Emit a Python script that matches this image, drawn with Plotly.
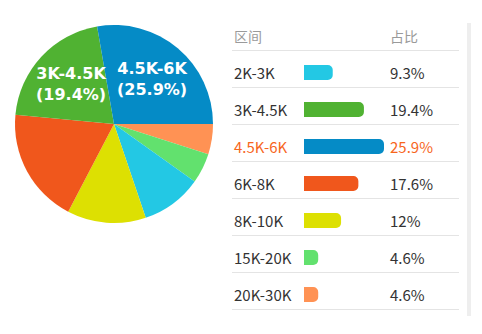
import math
import plotly.graph_objects as go

# ---- data ----
categories = ["2K-3K", "3K-4.5K", "4.5K-6K", "6K-8K", "8K-10K", "15K-20K", "20K-30K"]
shares = [9.3, 19.4, 25.9, 17.6, 12, 4.6, 4.6]
share_labels = ["9.3%", "19.4%", "25.9%", "17.6%", "12%", "4.6%", "4.6%"]
colors = ["#23c8e4", "#50b232", "#058bc6", "#f0571c", "#dde002", "#62e16e", "#ff9254"]
# clockwise from 3 o'clock
pie_order = ["20K-30K", "15K-20K", "2K-3K", "8K-10K", "6K-8K", "3K-4.5K", "4.5K-6K"]
pie_labelled = ["4.5K-6K", "3K-4.5K"]
highlight = "4.5K-6K"
header = ["区间", "占比"]

W, H = 482, 334


def px(x):
    return x / W


def py(y):
    return 1 - y / H


idx = {c: i for i, c in enumerate(categories)}
pie_vals = [shares[idx[c]] for c in pie_order]
pie_cols = [colors[idx[c]] for c in pie_order]

# pie geometry (pixels)
PCX, PCY, PR = 114, 124, 99

fig = go.Figure()
fig.add_trace(go.Pie(
    labels=pie_order, values=pie_vals, sort=False, direction="clockwise",
    rotation=90, marker=dict(colors=pie_cols, line=dict(width=0)),
    textinfo="none",
    domain=dict(x=[px(PCX - PR), px(PCX + PR)], y=[py(PCY + PR), py(PCY - PR)]),
    hoverinfo="label+value", showlegend=False,
))

rows = list(range(len(categories)))
fig.add_trace(go.Bar(
    x=shares, y=rows, orientation="h", width=0.405,
    marker=dict(color=colors, line=dict(width=0), cornerradius=5),
    showlegend=False, hoverinfo="x",
))

fig.update_layout(
    width=W, height=H, margin=dict(l=0, r=0, t=0, b=0),
    paper_bgcolor="white", plot_bgcolor="rgba(0,0,0,0)",
    xaxis=dict(domain=[px(304), px(464)], range=[0, 51.8], visible=False),
    yaxis=dict(domain=[py(313), py(54)], range=[6.5, -0.5], visible=False),
)

ann = []
# slice labels placed at the middle angle of their slices
total = sum(pie_vals)
acc = 0.0
for c, v in zip(pie_order, pie_vals):
    start = acc
    acc += v
    if c in pie_labelled:
        mid = (start + acc) / 2 / total * 360.0  # clockwise degrees from 3 o'clock
        th = math.radians(mid)
        lx = PCX + 0.595 * PR * math.cos(th)
        ly = PCY + 0.595 * PR * math.sin(th)
        ann.append(dict(x=px(lx), y=py(ly), xref="paper", yref="paper",
                        text=f"{c}<br>({share_labels[idx[c]]})",
                        xanchor="center", yanchor="middle", showarrow=False,
                        font=dict(family="DejaVu Sans", size=16, color="white", weight="bold")))

font_fam = "Noto Sans CJK SC"
ann.append(dict(x=px(232), y=py(36), xref="paper", yref="paper", text=header[0],
                xanchor="left", yanchor="middle", showarrow=False,
                font=dict(family=font_fam, size=14, color="#9a9a9a")))
ann.append(dict(x=px(388), y=py(36), xref="paper", yref="paper", text=header[1],
                xanchor="left", yanchor="middle", showarrow=False,
                font=dict(family=font_fam, size=14, color="#9a9a9a")))
for i, c in enumerate(categories):
    col = "#f7661d" if c == highlight else "#333333"
    ann.append(dict(x=px(232), y=i, xref="paper", yref="y", text=c,
                    xanchor="left", yanchor="middle", showarrow=False,
                    font=dict(family=font_fam, size=15, color=col)))
    ann.append(dict(x=px(388), y=i, xref="paper", yref="y", text=share_labels[i],
                    xanchor="left", yanchor="middle", showarrow=False,
                    font=dict(family=font_fam, size=15, color=col)))

shapes = []
for k in range(len(categories) + 1):
    yy = py(50.5 + 37 * k)
    shapes.append(dict(type="line", xref="paper", yref="paper", x0=px(232), x1=px(459),
                       y0=yy, y1=yy, line=dict(color="#e4e4e4", width=1)))
shapes.append(dict(type="rect", xref="paper", yref="paper", x0=px(467), x1=px(471),
                   y0=py(316), y1=py(23), fillcolor="#eeeeee", line=dict(width=0), layer="below"))

fig.update_layout(annotations=ann, shapes=shapes)
fig.write_html("out.html")
